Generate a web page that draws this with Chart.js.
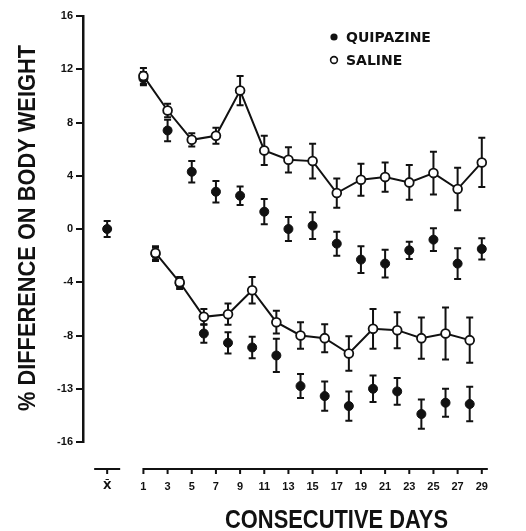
<!DOCTYPE html>
<html>
<head>
<meta charset="utf-8">
<script src="https://cdn.jsdelivr.net/npm/chart.js@4.4.1/dist/chart.umd.min.js"></script>
<style>
  html, body { margin: 0; padding: 0; background: #fff; }
  #wrap { width: 526px; height: 531px; }
</style>
</head>
<body>
<div id="wrap"><canvas id="weightChart"></canvas></div>
<script>
// ─── DATA ───
// first run: odd days
const upperDays = [1, 3, 5, 7, 9, 11, 13, 15, 17, 19, 21, 23, 25, 27, 29];
const upperSaline = [11.5, 8.9, 6.7, 7.0, 10.4, 5.9, 5.2, 5.1, 2.7, 3.7, 3.9, 3.5, 4.2, 3.0, 5.0];
const upperSalineErr = [0.6, 0.5, 0.5, 0.6, 1.1, 1.1, 0.95, 1.3, 1.1, 1.2, 1.1, 1.3, 1.6, 1.6, 1.85];
const upperQuip = [11.3, 7.4, 4.3, 2.8, 2.5, 1.3, 0.0, 0.25, -1.1, -2.3, -2.6, -1.6, -0.8, -2.6, -1.5];
const upperQuipErr = [0.5, 0.8, 0.8, 0.8, 0.7, 0.95, 0.9, 1.0, 0.9, 1.0, 1.05, 0.65, 0.85, 1.15, 0.8];

// second run: even days
const lowerDays = [2, 4, 6, 8, 10, 12, 14, 16, 18, 20, 22, 24, 26, 28];
const lowerSaline = [-1.8, -4.0, -6.6, -6.4, -4.6, -7.0, -8.0, -8.2, -9.35, -7.5, -7.6, -8.2, -7.85, -8.35];
const lowerSalineErr = [0.5, 0.4, 0.6, 0.8, 1.0, 0.85, 1.0, 1.05, 1.3, 1.5, 1.35, 1.55, 1.95, 1.7];
const lowerQuip = [-1.9, -4.1, -7.85, -8.55, -8.9, -9.5, -11.8, -12.55, -13.3, -12.0, -12.2, -13.9, -13.05, -13.15];
const lowerQuipErr = [0.5, 0.4, 0.7, 0.8, 0.8, 1.25, 0.9, 1.1, 1.1, 1.0, 1.0, 1.1, 1.05, 1.3];

// baseline mean
const meanDay = [-2];
const meanValue = [0];
const meanErr = [0.6];

// ─── TICKS ───
const xTickDays = [-2, 1, 3, 5, 7, 9, 11, 13, 15, 17, 19, 21, 23, 25, 27, 29];
const xTickLabels = ['X\u0304', '1', '3', '5', '7', '9', '11', '13', '15', '17', '19', '21', '23', '25', '27', '29'];
const yTickValues = [16, 12, 8, 4, 0, -4, -8, -12, -16];
const yTickLabels = ['16', '12', '8', '4', '0', '-4', '-8', '-13', '-16'];

const INK = '#111';
const SANS = '"Liberation Sans", Arial, sans-serif';

function toPoints(days, values) {
    return days.map((d, i) => ({ x: d, y: values[i] }));
}

// squeeze text along its run so it fits a width (the original lettering is condensed)
function condensedText(ctx, text, x, y, width) {
    const natural = ctx.measureText(text).width;
    ctx.save();
    ctx.translate(x, y);
    ctx.scale(width / natural, 1);
    ctx.fillText(text, 0, 0);
    ctx.restore();
}

// ─── ERROR BARS, AXIS LINE, LEGEND, TITLES ───
const figureExtras = {
    id: 'figureExtras',
    beforeDatasetsDraw(chart) {
        const ctx = chart.ctx;
        const xs = chart.scales.x, ys = chart.scales.y;
        ctx.save();
        ctx.strokeStyle = INK;
        ctx.lineWidth = 2;
        chart.data.datasets.forEach(ds => {
            if (!ds.errors) return;
            ds.data.forEach((p, i) => {
                const e = ds.errors[i];
                const x = xs.getPixelForValue(p.x);
                const y1 = ys.getPixelForValue(p.y + e);
                const y2 = ys.getPixelForValue(p.y - e);
                ctx.beginPath();
                ctx.moveTo(x, y1); ctx.lineTo(x, y2);
                ctx.moveTo(x - 3.5, y1); ctx.lineTo(x + 3.5, y1);
                ctx.moveTo(x - 3.5, y2); ctx.lineTo(x + 3.5, y2);
                ctx.stroke();
            });
        });
        ctx.restore();
    },
    afterDraw(chart) {
        const ctx = chart.ctx;
        const area = chart.chartArea;
        const xs = chart.scales.x;
        ctx.save();
        ctx.strokeStyle = INK;
        ctx.fillStyle = INK;

        // detached x axis
        const axisY = area.bottom + 27;
        ctx.lineWidth = 2;
        ctx.beginPath();
        const first = xs.getPixelForValue(1);
        ctx.moveTo(first - 1, axisY);
        ctx.lineTo(area.right, axisY);
        const mx = xs.getPixelForValue(-2);
        ctx.moveTo(mx - 13, axisY);
        ctx.lineTo(mx + 13, axisY);
        xTickDays.forEach(d => {
            const px = xs.getPixelForValue(d);
            ctx.moveTo(px, axisY);
            ctx.lineTo(px, axisY + 5);
        });
        ctx.stroke();

        // legend
        ctx.font = 'bold 14px "DejaVu Sans", sans-serif';
        ctx.textBaseline = 'middle';
        ctx.textAlign = 'left';
        ctx.beginPath();
        ctx.arc(334, 37, 3.6, 0, Math.PI * 2);
        ctx.fill();
        ctx.fillText('QUIPAZINE', 346, 38);
        ctx.beginPath();
        ctx.lineWidth = 1.6;
        ctx.arc(334, 60, 3.4, 0, Math.PI * 2);
        ctx.stroke();
        ctx.fillText('SALINE', 346, 61);

        // axis titles
        ctx.textAlign = 'left';
        ctx.textBaseline = 'alphabetic';
        ctx.font = 'bold 26px ' + SANS;
        condensedText(ctx, 'CONSECUTIVE DAYS', 225, 528, 223);

        ctx.save();
        ctx.translate(35, 411);
        ctx.rotate(-Math.PI / 2);
        ctx.font = 'bold 24px ' + SANS;
        condensedText(ctx, '% DIFFERENCE ON BODY WEIGHT', 0, 0, 366);
        ctx.restore();

        ctx.restore();
    }
};

// ─── CHART ───
const ctx = document.getElementById('weightChart').getContext('2d');
const weightChart = new Chart(ctx, {
    type: 'scatter',
    data: {
        datasets: [
            {
                label: 'SALINE',
                data: toPoints(upperDays, upperSaline),
                errors: upperSalineErr,
                showLine: true,
                borderColor: INK,
                borderWidth: 2,
                pointRadius: 4.4,
                pointBackgroundColor: '#fff',
                pointBorderColor: INK,
                pointBorderWidth: 1.8
            },
            {
                label: 'SALINE',
                data: toPoints(lowerDays, lowerSaline),
                errors: lowerSalineErr,
                showLine: true,
                borderColor: INK,
                borderWidth: 2,
                pointRadius: 4.4,
                pointBackgroundColor: '#fff',
                pointBorderColor: INK,
                pointBorderWidth: 1.8
            },
            {
                label: 'QUIPAZINE',
                data: toPoints(upperDays, upperQuip),
                errors: upperQuipErr,
                showLine: false,
                pointRadius: 4.5,
                pointBackgroundColor: INK,
                pointBorderColor: INK
            },
            {
                label: 'QUIPAZINE',
                data: toPoints(lowerDays, lowerQuip),
                errors: lowerQuipErr,
                showLine: false,
                pointRadius: 4.5,
                pointBackgroundColor: INK,
                pointBorderColor: INK
            },
            {
                label: 'MEAN',
                data: toPoints(meanDay, meanValue),
                errors: meanErr,
                showLine: false,
                pointRadius: 4.5,
                pointBackgroundColor: INK,
                pointBorderColor: INK
            }
        ]
    },
    options: {
        responsive: true,
        maintainAspectRatio: false,
        animation: false,
        layout: { padding: { top: 16, right: 3, bottom: 0, left: 0 } },
        plugins: {
            legend: { display: false },
            tooltip: { enabled: false }
        },
        scales: {
            x: {
                type: 'linear',
                min: -4,
                max: 29.5,
                afterBuildTicks: s => { s.ticks = xTickDays.map(v => ({ value: v })); },
                afterFit: s => { s.height = 89; },
                grid: { display: false, drawTicks: false },
                border: { display: false },
                ticks: {
                    autoSkip: false,
                    maxRotation: 0,
                    padding: 38,
                    color: INK,
                    font: c => ({
                        family: c.index === 0 ? '"DejaVu Sans", sans-serif' : SANS,
                        size: 11,
                        weight: 'bold'
                    }),
                    callback: v => xTickLabels[xTickDays.indexOf(v)]
                }
            },
            y: {
                min: -16,
                max: 16,
                afterBuildTicks: s => { s.ticks = yTickValues.map(v => ({ value: v })); },
                afterFit: s => { s.width = 83; },
                grid: { drawOnChartArea: false, drawTicks: true, tickLength: 7, color: INK, lineWidth: 2 },
                border: { display: true, color: INK, width: 2.5 },
                ticks: {
                    padding: 3,
                    color: INK,
                    font: { family: SANS, size: 11, weight: 'bold' },
                    callback: v => yTickLabels[yTickValues.indexOf(v)]
                }
            }
        }
    },
    plugins: [figureExtras]
});
</script>
</body>
</html>
